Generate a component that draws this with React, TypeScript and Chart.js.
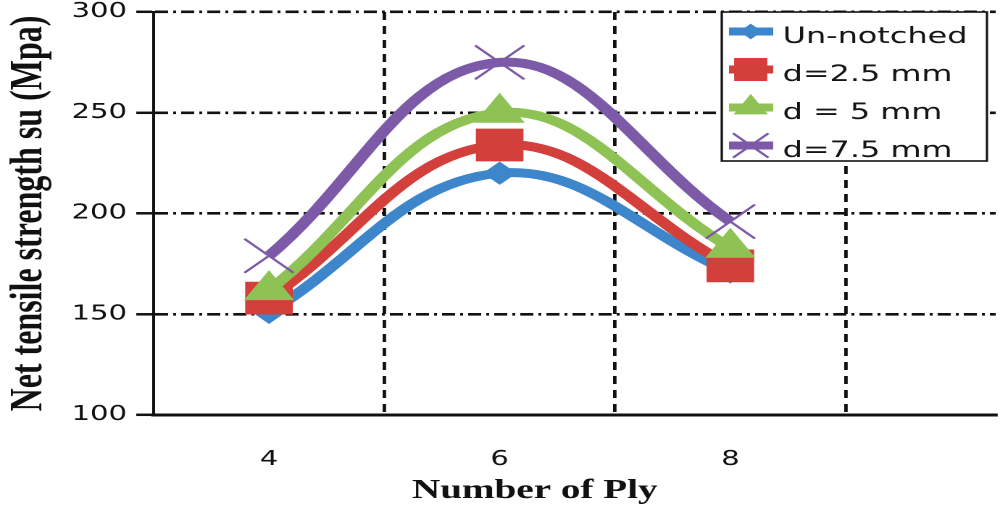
import React, { useEffect, useRef } from 'react';
import { Chart, registerables } from 'chart.js';

Chart.register(...registerables);

// ---------- data ----------
const plyCounts = [4, 6, 8];
const unNotched = [151, 220, 171];
const d25mm = [158, 234, 174];
const d5mm = [162, 250, 183];
const d75mm = [179, 275, 196];

const seriesNames = ['Un-notched', 'd=2.5 mm', 'd = 5 mm', 'd=7.5 mm'];
const seriesValues = [unNotched, d25mm, d5mm, d75mm];

const xTickValues = [3, 4, 5, 6, 7, 8, 9, 10];
const xLabelValues = [4, 6, 8];
const xGridValues = [5, 7, 9];
const yTickValues = [100, 150, 200, 250, 300];

const xTitle = 'Number of Ply';
const yTitle = 'Net tensile strength su (Mpa)';

// ---------- styles ----------
const seriesColors = ['#3d86cc', '#d33f3b', '#8fc254', '#7c5aa8'];
const seriesMarkers = ['rectRot', 'rect', 'triangle', 'crossRot'];
const markerRadii = [11, 22.5, 19, 24];

const LOGICAL_W = 690;
const H = 525;
const DISPLAY_W = 1000;

function drawMarker(ctx: CanvasRenderingContext2D, style: string, x: number, y: number, r: number, color: string) {
  ctx.save();
  ctx.fillStyle = color;
  ctx.strokeStyle = color;
  ctx.lineWidth = 1;
  ctx.beginPath();
  if (style === 'rectRot') {
    ctx.moveTo(x - r, y);
    ctx.lineTo(x, y - r);
    ctx.lineTo(x + r, y);
    ctx.lineTo(x, y + r);
    ctx.closePath();
    ctx.fill();
  } else if (style === 'rect') {
    const s = r * Math.SQRT1_2;
    ctx.rect(x - s, y - s, 2 * s, 2 * s);
    ctx.fill();
  } else if (style === 'triangle') {
    ctx.moveTo(x, y - r);
    ctx.lineTo(x + 0.866 * r, y + 0.5 * r);
    ctx.lineTo(x - 0.866 * r, y + 0.5 * r);
    ctx.closePath();
    ctx.fill();
  } else {
    const o = r * Math.SQRT1_2;
    ctx.lineWidth = 2;
    ctx.moveTo(x - o, y - o);
    ctx.lineTo(x + o, y + o);
    ctx.moveTo(x + o, y - o);
    ctx.lineTo(x - o, y + o);
    ctx.stroke();
  }
  ctx.restore();
}

const overlayPlugin = {
  id: 'insetLegendAndTitle',
  afterDraw(chart: any) {
    const ctx: CanvasRenderingContext2D = chart.ctx;
    const left = 498, top = 12, right = 681, bottom = 161;
    const baselines = [43, 81, 119, 157];
    ctx.save();
    ctx.fillStyle = '#ffffff';
    ctx.fillRect(left, top, right - left, bottom - top);
    seriesNames.forEach((name, i) => {
      const ly = baselines[i] - 11.5;
      ctx.strokeStyle = seriesColors[i];
      ctx.lineWidth = 8;
      ctx.lineCap = 'butt';
      ctx.beginPath();
      ctx.moveTo(503, ly);
      ctx.lineTo(533.5, ly);
      ctx.stroke();
      drawMarker(ctx, seriesMarkers[i], 518, ly, markerRadii[i] * 0.72, seriesColors[i]);
      ctx.fillStyle = '#151515';
      ctx.font = '22px "DejaVu Sans"';
      ctx.textAlign = 'left';
      ctx.textBaseline = 'alphabetic';
      ctx.fillText(name, 540, baselines[i]);
    });
    ctx.strokeStyle = '#111111';
    ctx.lineWidth = 1.6;
    ctx.strokeRect(left, top, right - left, bottom - top);

    ctx.fillStyle = '#111111';
    ctx.font = 'bold 27px "Liberation Serif"';
    ctx.textAlign = 'center';
    ctx.textBaseline = 'alphabetic';
    ctx.fillText(xTitle, 369, 498);
    ctx.restore();
  },
};

const zeroPadding = (scale: any) => {
  scale.paddingLeft = 0;
  scale.paddingRight = 0;
  scale.paddingTop = 0;
  scale.paddingBottom = 0;
};

export default function App() {
  const ref = useRef<HTMLCanvasElement>(null);

  useEffect(() => {
    document.body.style.margin = '0';
    const canvas = ref.current;
    if (!canvas) return;
    const chart = new Chart(canvas, {
      type: 'line',
      data: {
        datasets: seriesValues.map((vals, i) => ({
          label: seriesNames[i],
          data: plyCounts.map((x, j) => ({ x, y: vals[j] })),
          borderColor: seriesColors[i],
          backgroundColor: seriesColors[i],
          borderWidth: 9,
          tension: 0.4,
          fill: false,
          pointStyle: seriesMarkers[i] as any,
          pointRadius: markerRadii[i],
          pointHoverRadius: markerRadii[i],
          pointBorderWidth: i === 3 ? 2 : 1,
          pointBackgroundColor: seriesColors[i],
          pointBorderColor: seriesColors[i],
          order: 3 - i,
        })),
      },
      options: {
        animation: false,
        responsive: false,
        devicePixelRatio: 2,
        events: [],
        layout: { autoPadding: false, padding: { top: 12, right: 3, left: 0, bottom: 0 } },
        plugins: {
          legend: { display: false },
          tooltip: { enabled: false },
        },
        scales: {
          x: {
            type: 'linear',
            min: 3,
            max: 10.3,
            afterBuildTicks: (scale: any) => {
              scale.ticks = xTickValues.map((v) => ({ value: v }));
            },
            afterFit: (scale: any) => {
              scale.height = 110;
              zeroPadding(scale);
            },
            grid: {
              color: (c: any) => (xGridValues.includes(c.tick?.value) ? '#111111' : 'rgba(0,0,0,0)'),
              lineWidth: 2.4,
              drawTicks: true,
              tickLength: 6,
              tickColor: 'rgba(0,0,0,0)',
            },
            border: { display: true, color: '#111111', width: 3, dash: [8, 6] },
            ticks: {
              autoSkip: false,
              maxRotation: 0,
              padding: 27,
              color: '#111111',
              font: { family: '"DejaVu Sans"', size: 20 },
              callback: (v: any) => (xLabelValues.includes(Number(v)) ? String(v) : ''),
            },
          },
          y: {
            type: 'linear',
            min: 100,
            max: 300,
            afterBuildTicks: (scale: any) => {
              scale.ticks = yTickValues.map((v) => ({ value: v }));
            },
            afterFit: (scale: any) => {
              scale.width = 106;
              zeroPadding(scale);
            },
            grid: {
              color: (c: any) => (c.tick?.value === 100 ? 'rgba(0,0,0,0)' : '#111111'),
              lineWidth: 2.6,
              drawTicks: true,
              tickLength: 12,
              tickColor: '#111111',
              tickWidth: 2.5,
            },
            border: { display: true, color: '#111111', width: 2, dash: [9, 3.5, 2, 3.5] },
            ticks: {
              padding: 6.4,
              color: '#111111',
              font: { family: '"DejaVu Sans"', size: 20 },
            },
            title: {
              display: true,
              text: yTitle,
              color: '#111111',
              font: { family: '"Liberation Serif"', weight: 'bold', size: 32, lineHeight: 1 },
              padding: { top: 4, bottom: 0 },
            },
          },
        },
      },
      plugins: [overlayPlugin],
    } as any);
    return () => chart.destroy();
  }, []);

  return (
    <canvas
      ref={ref}
      width={LOGICAL_W}
      height={H}
      style={{ display: 'block', width: DISPLAY_W + 'px', height: H + 'px' }}
    />
  );
}
